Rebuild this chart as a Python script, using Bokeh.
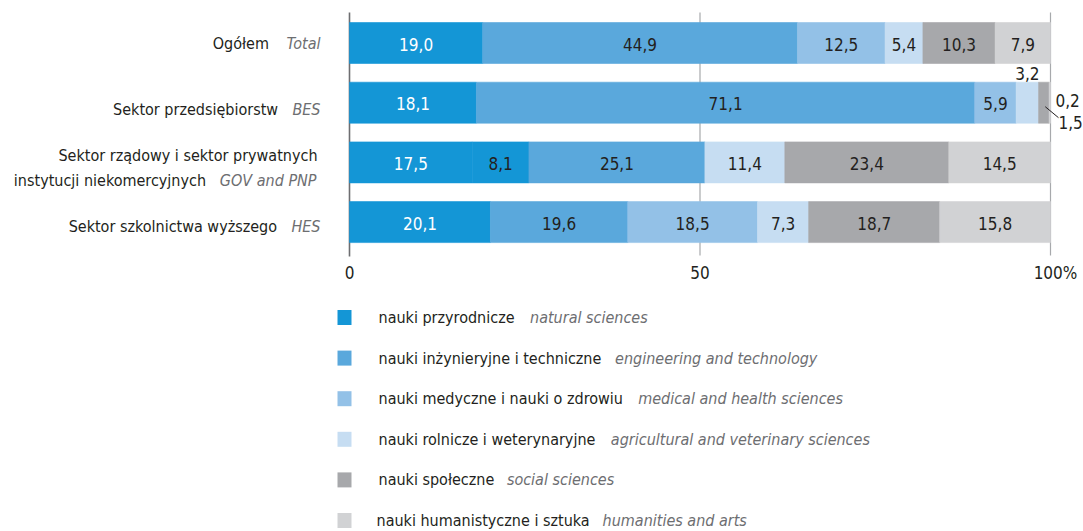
import numpy as np
from bokeh.plotting import figure
from bokeh.models import Range1d, ColumnDataSource
from bokeh.core.properties import value
from bokeh.embed import file_html
from bokeh.resources import INLINE

# ---------------- data ----------------
rows_pl = ["Ogółem", "Sektor przedsiębiorstw",
           "Sektor rządowy i sektor prywatnych|instytucji niekomercyjnych",
           "Sektor szkolnictwa wyższego"]
rows_en = ["Total", "BES", "GOV and PNP", "HES"]

fields_pl = ["nauki przyrodnicze", "nauki inżynieryjne i techniczne",
             "nauki medyczne i nauki o zdrowiu", "nauki rolnicze i weterynaryjne",
             "nauki społeczne", "nauki humanistyczne i sztuka"]
fields_en = ["natural sciences", "engineering and technology",
             "medical and health sciences", "agricultural and veterinary sciences",
             "social sciences", "humanities and arts"]

total = [19.0, 44.9, 12.5, 5.4, 10.3, 7.9]
bes = [18.1, 71.1, 5.9, 3.2, 1.5, 0.2]
gov = [17.5, 8.1, 25.1, 11.4, 23.4, 14.5]
hes = [20.1, 19.6, 18.5, 7.3, 18.7, 15.8]
series = [total, bes, gov, hes]

tick_values = [0, 50, 100]
tick_labels = ["0", "50", "100%"]

# ---------------- style ----------------
colors = ["#1496d6", "#5aa8dc", "#93c1e7", "#c6ddf2", "#a7a8ab", "#d1d2d4"]
# colour index used for each segment as drawn in the source figure
drawn_idx = [[0, 1, 2, 3, 4, 5], [0, 1, 2, 3, 4, 5], [0, 0, 1, 3, 4, 5], [0, 1, 2, 3, 4, 5]]
FONT = "DejaVu Sans Condensed, Roboto Condensed, Liberation Sans Narrow, Roboto"
BLACK = "#231f20"
GREY = "#6d6e71"

W, H = 1083, 531
S = 7.01          # px per percentage unit
X0 = 349          # canvas px of value 0


def px(c):
    return (c - X0) / S


p = figure(width=W, height=H, output_backend="svg", toolbar_location=None,
           x_range=Range1d(px(0), px(W)), y_range=Range1d(H, 0),
           x_axis_location=None, y_axis_location=None, min_border=0)
p.grid.visible = False
p.outline_line_color = None
p.background_fill_color = "white"

row_y = [42.5 + i * 59.7 for i in range(4)]
bar_h = 41

# grid lines and axis line
p.segment(x0=[50, 100], x1=[50, 100], y0=[12, 12], y1=[255, 255],
          line_color="#a7a9ac", line_width=1.2)
p.segment(x0=[0], x1=[0], y0=[12], y1=[256], line_color="#6d6e71", line_width=1.6)

# stacked bars
left, right, ys, fc, lab, lab_x, lab_y, lab_c = [], [], [], [], [], [], [], []
for r, vals in enumerate(series):
    cum = np.concatenate([[0], np.cumsum(vals)])
    for k, v in enumerate(vals):
        left.append(cum[k]); right.append(cum[k + 1]); ys.append(row_y[r])
        fc.append(colors[drawn_idx[r][k]])
        if v >= 4:
            lab.append(f"{v:.1f}".replace(".", ","))
            lab_x.append((cum[k] + cum[k + 1]) / 2)
            lab_y.append(row_y[r] + 1)
            lab_c.append("white" if k == 0 else BLACK)

p.hbar(y=ys, left=left, right=right, height=bar_h, fill_color=fc,
       line_color=fc, line_width=0.6)
p.text(x=lab_x, y=lab_y, text=lab, text_color=lab_c, text_align="center",
       text_baseline="middle", text_font=value(FONT), text_font_size="17px")

# small BES labels outside the bar
cb = np.concatenate([[0], np.cumsum(bes)])
ry = row_y[1]
small = ColumnDataSource(dict(
    x=[(cb[3] + cb[4]) / 2, 100, 100],
    y=[ry - 29, ry - 2, ry + 20],
    t=[f"{bes[3]:.1f}".replace(".", ","), f"{bes[5]:.1f}".replace(".", ","),
       f"{bes[4]:.1f}".replace(".", ",")],
    xo=[0, 5, 8], al=["center", "left", "left"]))
p.text(x="x", y="y", text="t", x_offset="xo", text_align="al", source=small,
       text_baseline="middle", text_color=BLACK, text_font=value(FONT),
       text_font_size="17px")
mid15 = (cb[4] + cb[5]) / 2
p.segment(x0=[mid15 + 0.2], y0=[ry + 4], x1=[100 + 8 / S], y1=[ry + 15],
          line_color=BLACK, line_width=1)

# tick labels
p.text(x=tick_values, y=[272] * 3, text=tick_labels, x_offset=[0, 0, 5],
       text_align="center", text_baseline="middle", text_color=BLACK,
       text_font=value(FONT), text_font_size="17px")

# category labels (layout: italic right-aligned, black text before it)
f_cat = 1.016
mid_off = [0.5, 6.8, 18.0, 4.8]
it_right = [320, 320, 316, 320]
it_w_ref = [35, 26, 93, 27]
cx, cy, ct, co = [], [], [], []
ix, iy, it, io = [], [], [], []
for r in range(4):
    lines = rows_pl[r].split("|")
    ym = row_y[r] + mid_off[r]
    it_start = it_right[r] - f_cat * it_w_ref[r]
    if len(lines) == 2:
        cx.append(0); cy.append(ym - 25); ct.append(lines[0]); co.append(317 - X0)
    cx.append(0); cy.append(ym); ct.append(lines[-1]); co.append(it_start - 16 - X0)
    ix.append(0); iy.append(ym); it.append(rows_en[r]); io.append(it_right[r] - X0)
p.text(x=cx, y=cy, text=ct, x_offset=co, text_align="right",
       text_baseline="middle", text_color=BLACK, text_font=value(FONT),
       text_font_size="16px")
p.text(x=ix, y=iy, text=it, x_offset=io, text_align="right",
       text_baseline="middle", text_color=GREY, text_font=value(FONT),
       text_font_style="italic", text_font_size="16px")

# legend
f_leg = 1.05
leg_y = [317 + i * 40.6 for i in range(6)]
pl_start = [378, 378, 378, 378, 378, 376]
pl_w_ref = [130, 211, 233, 207, 108, 201]
p.rect(x=[px(344)] * 6, y=leg_y, width=14, height=15, width_units="screen",
       height_units="screen", fill_color=colors, line_color=None)
en_x = [s + f_leg * w + 15 for s, w in zip(pl_start, pl_w_ref)]
p.text(x=[px(s) for s in pl_start], y=leg_y, text=fields_pl, text_align="left",
       text_baseline="middle", text_color=BLACK, text_font=value(FONT),
       text_font_size="16px")
p.text(x=[px(c) for c in en_x], y=leg_y, text=fields_en, text_align="left",
       text_baseline="middle", text_color=GREY, text_font=value(FONT),
       text_font_style="italic", text_font_size="16px")

open("out.html", "w").write(file_html(p, INLINE))
